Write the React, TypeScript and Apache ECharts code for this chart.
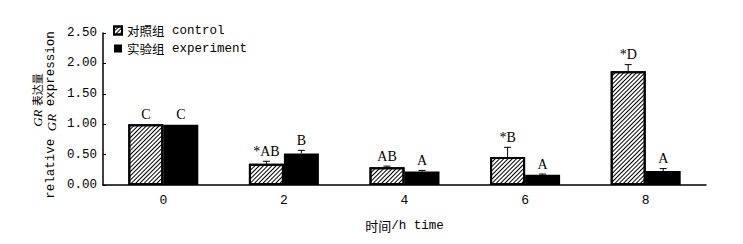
import React, { useEffect, useRef } from 'react';
import * as echarts from 'echarts';

const categories = ['0', '2', '4', '6', '8'];
const controlValues = [1.0, 0.35, 0.29, 0.46, 1.87];
const controlErrors = [0, 0.04, 0.02, 0.16, 0.11];
const experimentValues = [0.99, 0.52, 0.22, 0.17, 0.23];
const experimentErrors = [0, 0.05, 0.02, 0.01, 0.04];
const controlLetters = ['C', '*AB', 'AB', '*B', '*D'];
const experimentLetters = ['C', 'B', 'A', 'A', 'A'];
const controlName = '对照组 control';
const experimentName = '实验组 experiment';

const BAR_WIDTH = 35;
const MONO = '"Liberation Mono", monospace';
const CJK = '"Noto Sans CJK SC", sans-serif';
const SERIF = '"Liberation Serif", serif';

function errorSeries(name: string, values: number[], errors: number[], letters: string[], offset: number) {
  return {
    type: 'custom',
    name: name + '-err',
    data: values.map((v, i) => [i, v, errors[i]]),
    z: 5,
    renderItem: (params: any, api: any) => {
      const i = api.value(0);
      const v = api.value(1);
      const e = api.value(2);
      const base = api.coord([i, v]);
      const top = api.coord([i, v + e]);
      const x = base[0] + offset;
      const children: any[] = [];
      if (e > 0) {
        children.push({
          type: 'line',
          shape: { x1: x, y1: base[1], x2: x, y2: top[1] },
          style: { stroke: '#000', lineWidth: 1 },
        });
        children.push({
          type: 'line',
          shape: { x1: x - 3.5, y1: top[1], x2: x + 3.5, y2: top[1] },
          style: { stroke: '#000', lineWidth: 1 },
        });
      }
      children.push({
        type: 'text',
        x,
        y: top[1] - 3,
        style: {
          text: letters[params.dataIndex],
          fill: '#000',
          font: '14px ' + SERIF,
          align: 'center',
          verticalAlign: 'bottom',
        },
      });
      return { type: 'group', children };
    },
  };
}

export default function App() {
  const ref = useRef<HTMLDivElement>(null);
  useEffect(() => {
    if (!ref.current) return;
    const chart = echarts.init(ref.current, undefined, { renderer: 'svg' });
    const option: any = {
      animation: false,
      backgroundColor: '#fff',
      grid: { left: 103, right: 37, top: 33, bottom: 59 },
      legend: {
        orient: 'vertical',
        left: 113,
        top: 24,
        itemWidth: 8,
        itemHeight: 8,
        itemGap: 5,
        icon: 'rect',
        padding: 0,
        data: [
          { name: controlName, itemStyle: { color: '#fff', borderColor: '#000', borderWidth: 2 } },
          { name: experimentName },
        ],
        formatter: (n: string) => {
          const idx = n.indexOf(' ');
          return '{cn|' + n.slice(0, idx) + '}{en| ' + n.slice(idx + 1) + '}';
        },
        textStyle: {
          color: '#000',
          lineHeight: 13,
          padding: [0, 0, 0, 0],
          rich: {
            cn: { fontFamily: CJK, fontSize: 12.5, lineHeight: 13, color: '#000' },
            en: { fontFamily: MONO, fontSize: 12.5, lineHeight: 13, color: '#000' },
          },
        },
      },
      xAxis: {
        type: 'category',
        data: categories,
        name: '{cn|时间}{en|/h time}',
        nameLocation: 'middle',
        nameGap: 34,
        nameTextStyle: {
          rich: {
            cn: { fontFamily: CJK, fontSize: 13, color: '#000' },
            en: { fontFamily: MONO, fontSize: 12.5, color: '#000' },
          },
        },
        axisLine: { lineStyle: { color: '#000', width: 1.5 } },
        axisTick: { inside: true, length: 3, lineStyle: { color: '#000' } },
        axisLabel: { color: '#000', fontFamily: MONO, fontSize: 13, margin: 9 },
      },
      yAxis: {
        type: 'value',
        min: 0,
        max: 2.5,
        interval: 0.5,
        splitLine: { show: false },
        axisLine: { show: true, lineStyle: { color: '#000', width: 1.5 } },
        axisTick: { show: true, inside: true, length: 3, lineStyle: { color: '#000' } },
        axisLabel: {
          color: '#000',
          fontFamily: MONO,
          fontSize: 12.5,
          margin: 6,
          formatter: (v: number) => v.toFixed(2),
        },
      },
      graphic: [
        {
          type: 'text',
          x: 37,
          y: 100,
          rotation: Math.PI / 2,
          style: {
            text: '{it|GR} {cn|表达量}',
            align: 'center',
            verticalAlign: 'middle',
            rich: {
              it: { fontFamily: SERIF, fontStyle: 'italic', fontSize: 13, fill: '#000' },
              cn: { fontFamily: CJK, fontSize: 11, fill: '#000' },
            },
          },
        },
        {
          type: 'text',
          x: 51,
          y: 115,
          rotation: Math.PI / 2,
          style: {
            text: '{en|relative }{it|GR}{en| expression}',
            align: 'center',
            verticalAlign: 'middle',
            rich: {
              en: { fontFamily: MONO, fontSize: 12.5, fill: '#000' },
              it: { fontFamily: SERIF, fontStyle: 'italic', fontSize: 13, fill: '#000' },
            },
          },
        },
      ],
      series: [
        {
          type: 'bar',
          name: controlName,
          data: controlValues,
          barWidth: BAR_WIDTH,
          barGap: '0%',
          itemStyle: {
            color: '#fff',
            borderColor: '#000',
            borderWidth: 2,
            decal: {
              symbol: 'rect',
              symbolSize: 1,
              rotation: -Math.PI / 4,
              dashArrayX: [[1, 0]],
              dashArrayY: [1, 1.6],
              color: '#000',
            },
          },
        },
        {
          type: 'bar',
          name: experimentName,
          data: experimentValues,
          barWidth: BAR_WIDTH,
          barGap: '0%',
          itemStyle: { color: '#000' },
        },
        errorSeries(controlName, controlValues, controlErrors, controlLetters, -BAR_WIDTH / 2),
        errorSeries(experimentName, experimentValues, experimentErrors, experimentLetters, BAR_WIDTH / 2),
      ],
    };
    chart.setOption(option);
    return () => chart.dispose();
  }, []);
  return (
    <div
      ref={ref}
      style={{ position: 'absolute', left: 0, top: 0, width: 743, height: 244 }}
    />
  );
}
